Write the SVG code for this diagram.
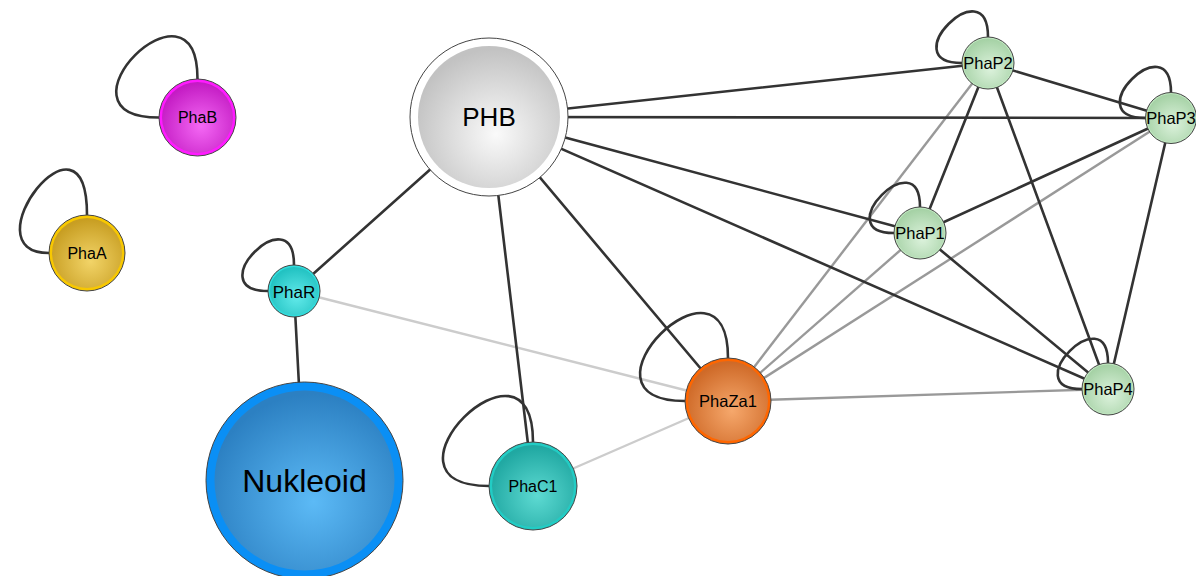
<svg xmlns="http://www.w3.org/2000/svg" width="1196" height="576" viewBox="0 0 1196 576">
<defs>
<radialGradient id="gPHB" cx="55%" cy="62%" r="60%"><stop offset="0" stop-color="#fafafa"/><stop offset="1" stop-color="#c2c2c2"/></radialGradient>
<radialGradient id="gNuk" cx="55%" cy="62%" r="60%"><stop offset="0" stop-color="#5cbaf6"/><stop offset="1" stop-color="#2c80c2"/></radialGradient>
<radialGradient id="gZa" cx="55%" cy="62%" r="60%"><stop offset="0" stop-color="#f6a86c"/><stop offset="1" stop-color="#cf6a28"/></radialGradient>
<radialGradient id="gC1" cx="55%" cy="62%" r="60%"><stop offset="0" stop-color="#5ddad2"/><stop offset="1" stop-color="#20a8a2"/></radialGradient>
<radialGradient id="gR" cx="55%" cy="62%" r="60%"><stop offset="0" stop-color="#62eaea"/><stop offset="1" stop-color="#22c2c2"/></radialGradient>
<radialGradient id="gB" cx="55%" cy="62%" r="60%"><stop offset="0" stop-color="#f468f4"/><stop offset="1" stop-color="#c41cc4"/></radialGradient>
<radialGradient id="gA" cx="55%" cy="62%" r="60%"><stop offset="0" stop-color="#f2d468"/><stop offset="1" stop-color="#c89e22"/></radialGradient>
<radialGradient id="gP" cx="55%" cy="62%" r="60%"><stop offset="0" stop-color="#dcf2dc"/><stop offset="1" stop-color="#a6d2a6"/></radialGradient>
</defs>
<style>
.e{stroke:#333;stroke-width:2.6;fill:none;stroke-linecap:round}
.g{stroke:#999;stroke-width:2.4;fill:none}
.l{stroke:#ccc;stroke-width:2.4;fill:none}
.loop{stroke:#333;stroke-width:2.6;fill:none}
.o{stroke:#444;stroke-width:1}
.t{font-family:"Liberation Sans",Arial,sans-serif;fill:#000;text-anchor:middle;dominant-baseline:central}
</style>
<g id="connectors">
<line class="l" x1="294" y1="291" x2="728" y2="401"/>
<line class="l" x1="533" y1="486" x2="728" y2="401"/>
<line class="g" x1="728" y1="401" x2="988" y2="63"/>
<line class="g" x1="728" y1="401" x2="1171" y2="118"/>
<line class="g" x1="728" y1="401" x2="920" y2="233"/>
<line class="g" x1="728" y1="401" x2="1108" y2="389"/>
<line class="e" x1="489" y1="117" x2="294" y2="291"/>
<line class="e" x1="489" y1="117" x2="533" y2="486"/>
<line class="e" x1="489" y1="117" x2="728" y2="401"/>
<line class="e" x1="489" y1="117" x2="920" y2="233"/>
<line class="e" x1="489" y1="117" x2="988" y2="63"/>
<line class="e" x1="489" y1="117" x2="1171" y2="118"/>
<line class="e" x1="489" y1="117" x2="1108" y2="389"/>
<line class="e" x1="294" y1="291" x2="304" y2="480"/>
<line class="e" x1="988" y1="63" x2="1171" y2="118"/>
<line class="e" x1="988" y1="63" x2="920" y2="233"/>
<line class="e" x1="988" y1="63" x2="1108" y2="389"/>
<line class="e" x1="1171" y1="118" x2="920" y2="233"/>
<line class="e" x1="1171" y1="118" x2="1108" y2="389"/>
<line class="e" x1="920" y1="233" x2="1108" y2="389"/>
<path class="loop" d="M197.5,79 C197.5,-36 44,117.5 159,117.5"/>
<path class="loop" d="M87,215 C87,94 -34,253 49,253"/>
<path class="loop" d="M294,265 C294,195 198,291 268,291"/>
<path class="loop" d="M728,358 C728,236 563,401 685,401"/>
<path class="loop" d="M533,442 C533,317 364,486 489,486"/>
<path class="loop" d="M988,37 C988,-33 892,63 962,63"/>
<path class="loop" d="M1171,92.5 C1171,22.5 1075.5,118 1145.5,118"/>
<path class="loop" d="M920,207 C920,140 827,233 894,233"/>
<path class="loop" d="M1108,363 C1108,296 1015,389 1082,389"/>
</g>
<g id="PhaB"><circle class="o" cx="197.5" cy="117.5" r="38.5" fill="#ff1aff"/><circle cx="197.5" cy="117.5" r="35.5" fill="url(#gB)"/><text class="t" x="197.5" y="117.5" font-size="16">PhaB</text></g>
<g id="PhaA"><circle class="o" cx="87" cy="253" r="38" fill="#f8c800"/><circle cx="87" cy="253" r="35" fill="url(#gA)"/><text class="t" x="87" y="253" font-size="16">PhaA</text></g>
<g id="PHB"><circle class="o" cx="489" cy="117" r="79" fill="#fff"/><circle cx="489" cy="117" r="71" fill="url(#gPHB)"/><text class="t" x="489" y="117" font-size="26">PHB</text></g>
<g id="PhaR"><circle class="o" cx="294" cy="291" r="26" fill="#30dcdc"/><circle cx="294" cy="291" r="24" fill="url(#gR)"/><text class="t" x="294" y="292" font-size="17">PhaR</text></g>
<g id="Nukleoid"><circle class="o" cx="304.5" cy="480.5" r="98.5" fill="#0a8ff5"/><circle cx="304.5" cy="480.5" r="90" fill="url(#gNuk)"/><text class="t" x="304.5" y="481" font-size="32">Nukleoid</text></g>
<g id="PhaC1"><circle class="o" cx="533" cy="486" r="44" fill="#22ccc4"/><circle cx="533" cy="486" r="41" fill="url(#gC1)"/><text class="t" x="533" y="486" font-size="16">PhaC1</text></g>
<g id="PhaZa1"><circle class="o" cx="728" cy="401" r="43" fill="#ff6600"/><circle cx="728" cy="401" r="40" fill="url(#gZa)"/><text class="t" x="728" y="401" font-size="16.5">PhaZa1</text></g>
<g id="PhaP2"><circle class="o" cx="988" cy="63" r="26" fill="#c0e8c0"/><circle cx="988" cy="63" r="24.5" fill="url(#gP)"/><text class="t" x="988" y="63" font-size="16.5">PhaP2</text></g>
<g id="PhaP3"><circle class="o" cx="1171" cy="118" r="25.5" fill="#c0e8c0"/><circle cx="1171" cy="118" r="24" fill="url(#gP)"/><text class="t" x="1171" y="118" font-size="16.5">PhaP3</text></g>
<g id="PhaP1"><circle class="o" cx="920" cy="233" r="26" fill="#c0e8c0"/><circle cx="920" cy="233" r="24.5" fill="url(#gP)"/><text class="t" x="920" y="233" font-size="16.5">PhaP1</text></g>
<g id="PhaP4"><circle class="o" cx="1108" cy="389" r="26" fill="#c0e8c0"/><circle cx="1108" cy="389" r="24.5" fill="url(#gP)"/><text class="t" x="1108" y="389" font-size="16.5">PhaP4</text></g>
</svg>
